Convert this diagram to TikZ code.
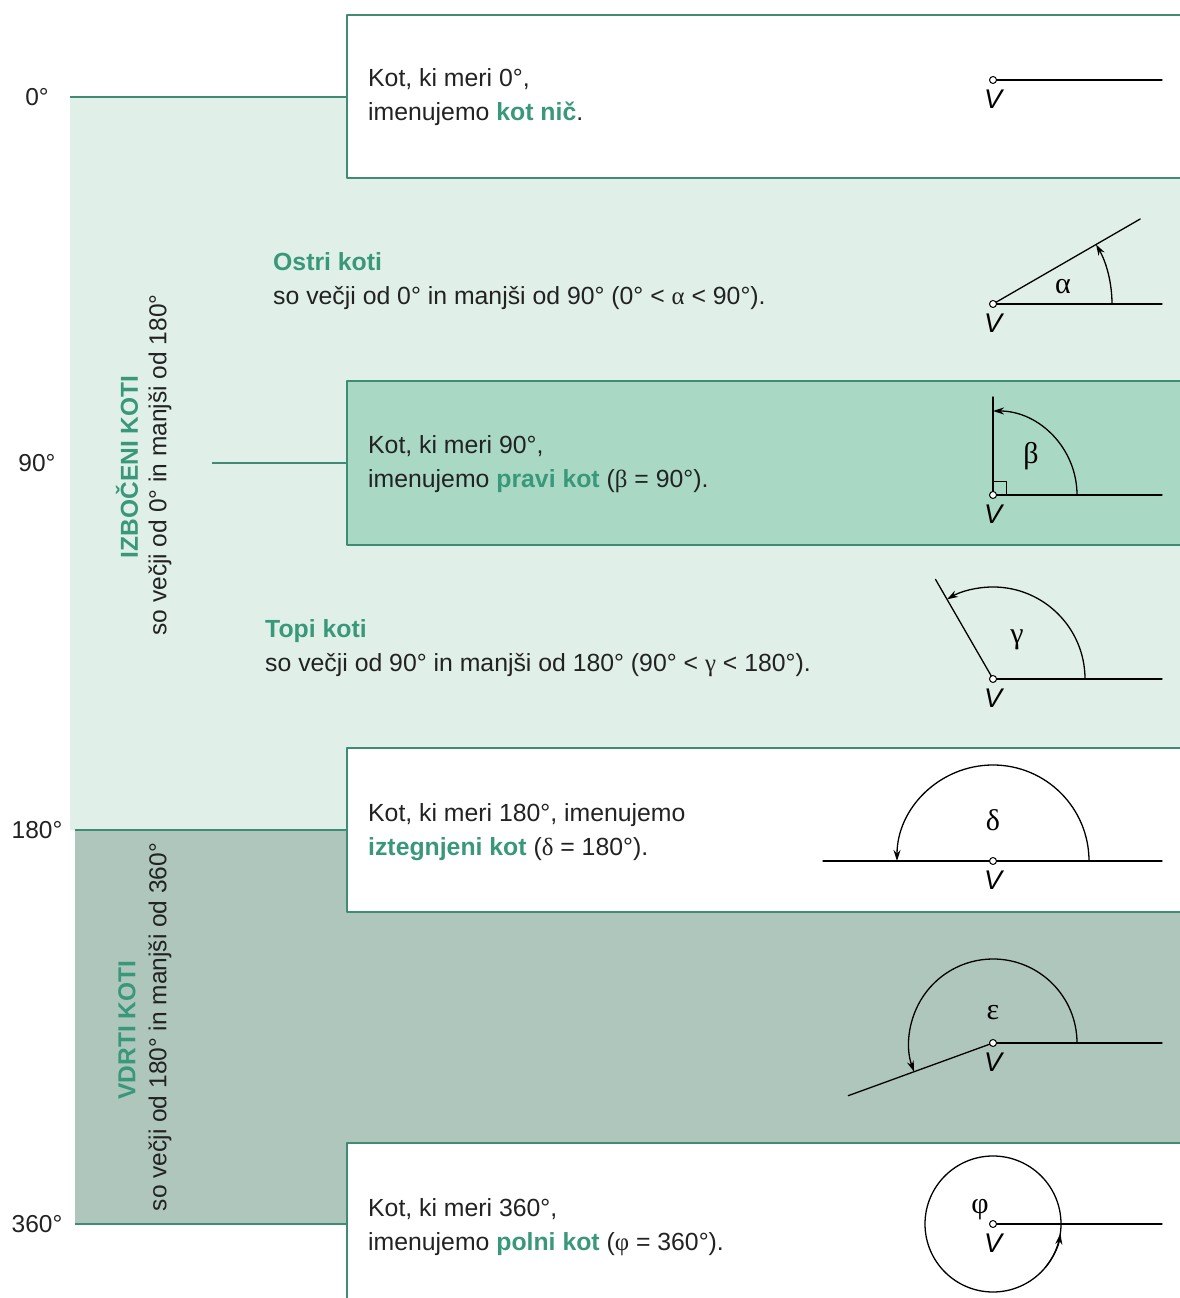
\documentclass[tikz,border=0pt]{standalone}
\usepackage{fontspec}
\setmainfont{Liberation Sans}
\newfontfamily\grskfont{Liberation Serif}
\usetikzlibrary{arrows.meta}

\definecolor{svetlozel}{HTML}{E0F0E9}
\definecolor{srednjezel}{HTML}{A9D9C5}
\definecolor{temnozel}{HTML}{AEC6BC}
\definecolor{robzel}{HTML}{3E8C73}
\definecolor{besedzel}{HTML}{3A987A}
\definecolor{crnilo}{HTML}{222222}

\newcommand{\poudari}[1]{\textbf{\textcolor{besedzel}{#1}}}
\newcommand{\grk}[1]{{\grskfont #1}}

\tikzset{
  meja/.style={draw=robzel, line width=2.6pt},
  krak/.style={line width=1.3pt, line cap=round},
  lok/.style={line width=1.3pt, -{Stealth[length=11pt,width=7pt]}},
  besedilo/.style={anchor=west, align=left, inner sep=0pt,
    font=\fontsize{24.8}{34}\selectfont, text=crnilo},
  stopinje/.style={anchor=center, inner sep=0pt,
    font=\fontsize{24.5}{30}\selectfont, text=crnilo},
  tocka/.style={circle, draw, fill=white, line width=1pt,
    inner sep=0pt, minimum size=7pt},
  oznakaV/.style={below=10pt, inner sep=0pt,
    font=\fontsize{27}{27}\selectfont\itshape},
  grskacrka/.style={inner sep=0pt, font=\fontsize{30}{30}\grskfont},
}

\begin{document}
\begin{tikzpicture}[x=1pt,y=1pt,line join=round]
\useasboundingbox (0,0) rectangle (1180,1298);
\clip (0,0) rectangle (1180,1298);
\fill[white] (0,0) rectangle (1180,1298);

% pasova
\fill[svetlozel] (70,1201) rectangle (1180,468);
\fill[temnozel] (75,468) rectangle (1180,74);

% okvirji
\filldraw[meja, fill=white] (347,1283) rectangle (1195,1120);
\filldraw[meja, fill=srednjezel] (347,917) rectangle (1195,753);
\filldraw[meja, fill=white] (347,550) rectangle (1195,386);
\filldraw[meja, fill=white] (347,155) rectangle (1195,-20);

% ravni
\draw[meja] (70,1201) -- (347,1201);
\draw[meja] (212,835) -- (347,835);
\draw[meja] (75,468) -- (347,468);
\draw[meja] (75,74) -- (347,74);

\node[stopinje] (st0) at (37,1201) {0°};
\node[stopinje] (st90) at (37,835) {90°};
\node[stopinje] (st180) at (37,468) {180°};
\node[stopinje] (st360) at (37,74) {360°};

\node[stopinje, rotate=90] (izboceni) at (127,831) {\poudari{IZBOČENI KOTI}};
\node[stopinje, rotate=90] (izbocenitxt) at (160,833) {so večji od 0° in manjši od 180°};
\node[stopinje, rotate=90] (vdrti) at (127,268) {\poudari{VDRTI KOTI}};
\node[stopinje, rotate=90] (vdrtitxt) at (160,271) {so večji od 180° in manjši od 360°};

% besedila
\node[besedilo] (nic) at (368,1201) {Kot, ki meri 0°,\\imenujemo \poudari{kot nič}.};
\node[besedilo] (ostri) at (273,1017) {\poudari{Ostri koti}\\so večji od 0° in manjši od 90° (0° < \grk{α} < 90°).};
\node[besedilo] (pravi) at (368,834) {Kot, ki meri 90°,\\imenujemo \poudari{pravi kot} (\grk{β} = 90°).};
\node[besedilo] (topi) at (265,650) {\poudari{Topi koti}\\so večji od 90° in manjši od 180° (90° < \grk{γ} < 180°).};
\node[besedilo] (iztegnjeni) at (368,466) {Kot, ki meri 180°, imenujemo\\\poudari{iztegnjeni kot} (\grk{δ} = 180°).};
\node[besedilo] (polni) at (368,71) {Kot, ki meri 360°,\\imenujemo \poudari{polni kot} (\grk{φ} = 360°).};

% kot nic
\coordinate (V0) at (993,1218);
\draw[krak] (V0) -- ++(169,0);
\node[tocka] at (V0) {};
\node[oznakaV] at (V0) {V};

% ostri kot
\coordinate (V1) at (993,994);
\draw[krak] (V1) -- ++(169,0);
\draw[krak] (V1) -- ++(30:170);
\draw[lok] (V1) ++(0:119) arc[start angle=0, end angle=30, radius=119];
\node[grskacrka] at (1063,1011) {α};
\node[tocka] at (V1) {};
\node[oznakaV] at (V1) {V};

% pravi kot
\coordinate (V2) at (993,803);
\draw[krak] (V2) -- ++(169,0);
\draw[krak] (V2) -- ++(0,98);
\draw[line width=1pt] (V2) rectangle ++(13,13);
\draw[lok] (V2) ++(0:84) arc[start angle=0, end angle=90, radius=84];
\node[grskacrka] at (1031,842) {β};
\node[tocka] at (V2) {};
\node[oznakaV] at (V2) {V};

% topi kot
\coordinate (V3) at (993,619);
\draw[krak] (V3) -- ++(169,0);
\draw[krak] (V3) -- ++(120:115);
\draw[lok] (V3) ++(0:92) arc[start angle=0, end angle=120, radius=92];
\node[grskacrka] at (1017,658) {γ};
\node[tocka] at (V3) {};
\node[oznakaV] at (V3) {V};

% iztegnjeni kot
\coordinate (V4) at (993,437);
\draw[krak] (823,437) -- (1162,437);
\draw[lok] (V4) ++(0:96) arc[start angle=0, end angle=180, radius=96];
\node[grskacrka] at (993,478) {δ};
\node[tocka] at (V4) {};
\node[oznakaV] at (V4) {V};

% vdrti kot
\coordinate (V5) at (993,255);
\draw[krak] (V5) -- ++(169,0);
\draw[krak] (V5) -- ++(200:154);
\draw[lok] (V5) ++(0:84) arc[start angle=0, end angle=200, radius=84];
\node[grskacrka] at (993,285) {ε};
\node[tocka] at (V5) {};
\node[oznakaV] at (V5) {V};

% polni kot
\coordinate (V6) at (993,74);
\draw[krak] (V6) circle[radius=68];
\draw[lok] (V6) ++(-40:68) arc[start angle=-40, end angle=-8, radius=68];
\draw[krak] (V6) -- ++(169,0);
\node[grskacrka] at (980,88) {φ};
\node[tocka] at (V6) {};
\node[oznakaV] at (V6) {V};
\end{tikzpicture}
\end{document}
